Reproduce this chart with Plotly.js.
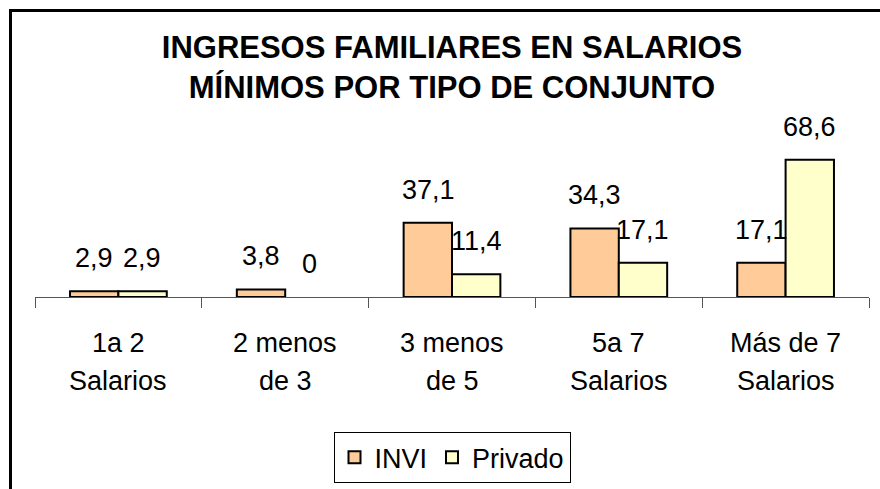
<!DOCTYPE html>
<html>
<head>
<meta charset="utf-8">
<script src="https://cdn.plot.ly/plotly-3.0.1.min.js"></script>
<style>
  html, body { margin: 0; padding: 0; background: #fff; overflow: hidden; }
  #wrap { position: relative; width: 880px; height: 489px; overflow: hidden; }
  #chart { position: absolute; left: 0; top: 0; width: 880px; height: 489px; }
  #frame { position: absolute; left: 9px; top: 9px; width: 900px; height: 520px;
           border: 3px solid #000; pointer-events: none; box-sizing: border-box; }
</style>
</head>
<body>
<div id="wrap">
  <div id="chart"></div>
  <div id="frame"></div>
</div>
<script>
// ---- data ----
const categories = ["1a 2 Salarios", "2 menos de 3", "3 menos de 5", "5a 7 Salarios", "Más de 7 Salarios"];
const catLine1 = ["1a 2", "2 menos", "3 menos", "5a 7", "Más de 7"];
const catLine2 = ["Salarios", "de 3", "de 5", "Salarios", "Salarios"];
const seriesNames = ["INVI", "Privado"];
const invi = [2.9, 3.8, 37.1, 34.3, 17.1];
const privado = [2.9, 0, 11.4, 17.1, 68.6];
const titleLines = ["INGRESOS FAMILIARES EN SALARIOS", "MÍNIMOS POR TIPO DE CONJUNTO"];

// ---- styles ----
const FONT = "Arial, 'Liberation Sans', sans-serif";
const colors = ["#FFCC99", "#FFFFCC"];
const fmt = v => String(v).replace(".", ",");

const traces = [invi, privado].map((vals, i) => ({
  type: "bar",
  name: seriesNames[i],
  x: categories,
  y: vals,
  marker: { color: colors[i], line: { color: "#000", width: vals.map(v => (v === 0 ? 0 : 2)) } },
  hoverinfo: "none"
}));

const annotations = [];
[invi, privado].forEach((vals, i) => {
  vals.forEach((v, j) => {
    annotations.push({
      x: categories[j], y: v, xref: "x", yref: "y",
      text: fmt(v), showarrow: false,
      xshift: i === 0 ? -24 : 24, yshift: 33,
      yanchor: "middle", xanchor: "center",
      font: { family: FONT, size: 27, color: "#000" }
    });
  });
});
categories.forEach((c, j) => {
  annotations.push({
    x: c, y: 0, xref: "x", yref: "paper", text: catLine1[j], showarrow: false,
    yshift: -46, yanchor: "middle", font: { family: FONT, size: 27, color: "#000" }
  });
  annotations.push({
    x: c, y: 0, xref: "x", yref: "paper", text: catLine2[j], showarrow: false,
    yshift: -84, yanchor: "middle", font: { family: FONT, size: 27, color: "#000" }
  });
});

const layout = {
  width: 880, height: 489,
  margin: { l: 35, r: 11, t: 137, b: 192, pad: 0, autoexpand: false },
  paper_bgcolor: "#fff", plot_bgcolor: "#fff",
  title: {
    text: "<b>" + titleLines.join("<br>") + "</b>",
    x: 0.5, xref: "paper", xanchor: "center",
    y: 1 - 58 / 489, yref: "container", yanchor: "top",
    font: { family: FONT, size: 31, color: "#000" }
  },
  barmode: "group", bargap: 0.42, bargroupgap: 0,
  xaxis: {
    type: "category", showline: true, linecolor: "#555", linewidth: 1,
    ticks: "outside", ticklen: 10, tickcolor: "#555", tickwidth: 1,
    tickson: "boundaries", showticklabels: false, showgrid: false, zeroline: false,
    fixedrange: true
  },
  yaxis: { range: [0, 80], visible: false, showgrid: false, zeroline: false, fixedrange: true },
  showlegend: true,
  legend: {
    orientation: "h", x: 0.5, xanchor: "center", y: -0.845, yanchor: "top",
    bordercolor: "#000", borderwidth: 1, bgcolor: "#fff",
    font: { family: FONT, size: 27, color: "#000" },
    traceorder: "normal"
  },
  annotations: annotations
};

Plotly.newPlot("chart", traces, layout, { displayModeBar: false, staticPlot: true });
</script>
</body>
</html>
